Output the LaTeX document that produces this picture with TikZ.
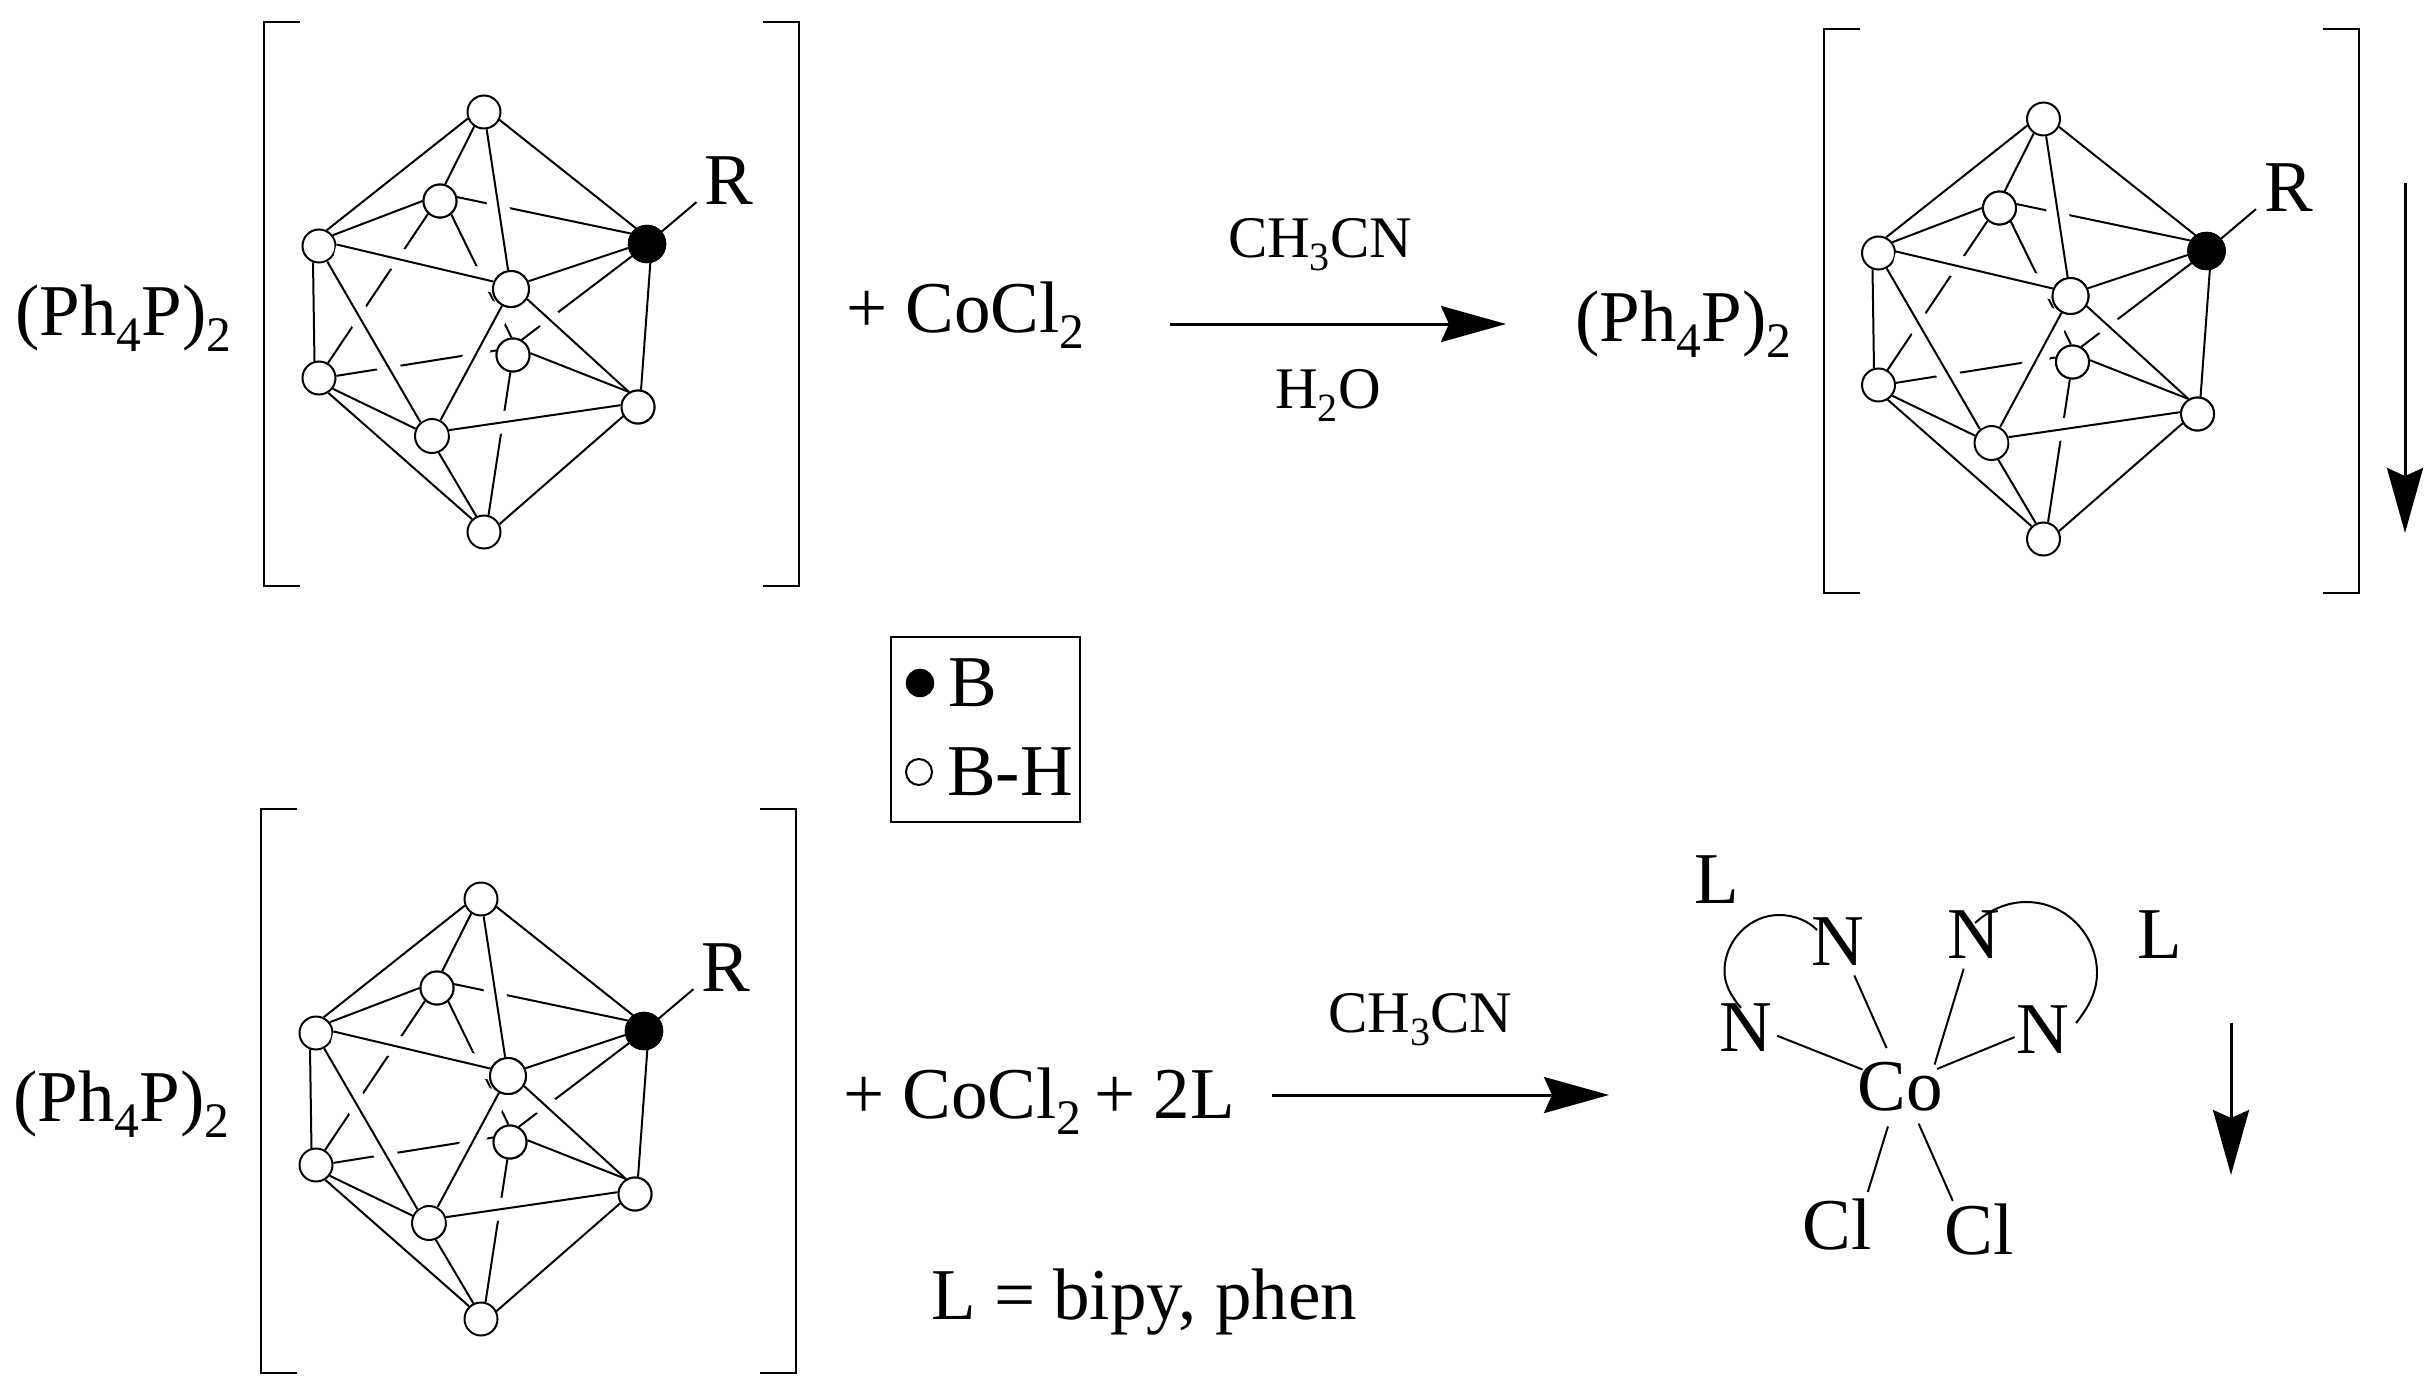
\documentclass[tikz,border=0pt]{standalone}
\usepackage{fontspec}
\usepackage{graphicx}
\setmainfont{Liberation Serif}
\usetikzlibrary{arrows.meta}
\newcommand{\chemsub}[1]{\raisebox{-.23em}{\scalebox{.68}{#1}}}
\tikzstyle{formula} = [font=\fontsize{73}{80}\selectfont, inner sep=0pt]
\tikzstyle{reagent} = [font=\fontsize{59}{66}\selectfont, inner sep=0pt]
\tikzstyle{vertex} = [circle, draw=black, fill=white, line width=2pt, inner sep=0pt, minimum size=33pt]
\tikzstyle{boron} = [circle, draw=black, fill=black, inner sep=0pt, minimum size=38pt]
\tikzstyle{bond} = [line width=2pt]
\tikzstyle{halo} = [white, line width=22pt]
\tikzstyle{atom} = [formula, circle, inner sep=-30pt, minimum size=72pt]
\tikzstyle{arrow} = [line width=3pt, -{Stealth[length=65pt, width=36pt, inset=8pt]}]

\newcommand{\carborane}[3]{
\begin{scope}[shift={(#1,#2)}, name prefix=#3-]
    \draw [bond] (300,22) -- (264,22) -- (264,586) -- (300,586);
    \draw [bond] (763,22) -- (799,22) -- (799,586) -- (763,586);

    \node (top) [vertex] at (484,112) {};
    \node (a) [vertex] at (440,201) {};
    \node (lu) [vertex] at (319,246) {};
    \node (c) [vertex, minimum size=36pt] at (511,289) {};
    \node (B) [boron] at (647,244) {};
    \node (bk) [vertex] at (513,355) {};
    \node (ll) [vertex] at (319,378) {};
    \node (rl) [vertex] at (638,407) {};
    \node (fl) [vertex, minimum size=34pt] at (432,436) {};
    \node (bot) [vertex] at (484,532) {};
    \node (Rlab) [formula, inner sep=8pt] at (729,181) {R};

    % back edges first, the white lines cut them
    \foreach \from/\to in {a.13/B.147, a.-50/bk.95, ll.59/a.227, ll.7/bk.165, bk.60/B.219, bk/bot.75}
        \draw [bond] (\from) -- (\to);
    \foreach \from/\to in {lu.5/c.157, top/c, c.-32/rl.121, c/fl, lu.-62/fl.130, fl.19/rl.174}
        \draw [halo] (\from) -- (\to);
    \draw [halo, shorten >=45pt] (c.24) -- (B.192);

    \foreach \from/\to in {lu.5/c.157, top/c, c.-32/rl.121, c/fl, lu.-62/fl.130, fl.19/rl.174, c.24/B.192,
        top.202/lu.64, top.-27/B.125, a.73/top.236, a.180/lu.38, lu.250/ll.105, B.280/rl.80,
        bk.6/rl.121, fl.156/ll.-38, ll.-58/bot.133, fl.-68/bot.116, rl.212/bot.27}
        \draw [bond] (\from) -- (\to);
    \draw [bond] (B) -- (Rlab.213);

    \node [vertex] at (a) {};
    \node [vertex, minimum size=36pt] at (c) {};
    \node [boron] at (B) {};
    \node [vertex] at (bk) {};
    \node [vertex] at (rl) {};
\end{scope}
}

\begin{document}
\begin{tikzpicture}[x=1pt, y=-1pt]
    \useasboundingbox (0,0) rectangle (2433,1389);

    \carborane{0}{0}{first}
    \carborane{1559.5}{7}{second}
    \carborane{-3}{787}{third}

    \node (phA) [formula, anchor=base west] at (15,335) {(Ph\chemsub{4}P)\chemsub{2}};
    \node (phB) [formula, anchor=base west] at (1575,341) {(Ph\chemsub{4}P)\chemsub{2}};
    \node (phC) [formula, anchor=base west] at (13,1121) {(Ph\chemsub{4}P)\chemsub{2}};
    \node (plusA) [formula, anchor=base west] at (846,332) {+ CoCl\chemsub{2}};
    \node (plusB) [formula, anchor=base west] at (843,1118) {+ CoCl\chemsub{2}\hspace{13pt}+ 2L};
    \node (ligand) [formula, anchor=base west] at (931,1319) {L = bipy, phen};

    \coordinate (arrowAa) at (1170,324);
    \coordinate (arrowAb) at (1506,324);
    \coordinate (arrowBa) at (1272,1095);
    \coordinate (arrowBb) at (1609,1095);
    \coordinate (downAa) at (2405,183);
    \coordinate (downAb) at (2405,533);
    \coordinate (downBa) at (2231,1023);
    \coordinate (downBb) at (2231,1175);

    \draw [arrow] (arrowAa) -- node[reagent, anchor=base, xshift=-18pt, yshift=67pt] {CH\chemsub{3}CN}
        node[reagent, anchor=base, xshift=-10pt, yshift=-84pt] {H\chemsub{2}O} (arrowAb);
    \draw [arrow] (arrowBa) -- node[reagent, anchor=base, xshift=-20pt, yshift=63pt] {CH\chemsub{3}CN} (arrowBb);
    \draw [arrow] (downAa) -- (downAb);
    \draw [arrow] (downBa) -- (downBb);

    % legend
    \draw [bond] (891,637) rectangle (1080,822);
    \node (dotB) [boron, minimum size=28pt] at (920,683) {};
    \node (dotH) [vertex, minimum size=26pt] at (919,772) {};
    \node (labB) [formula, anchor=west] at (948,683) {B};
    \node (labH) [formula, anchor=west] at (947,772) {B-H};

    % cobalt complex
    \node (Co) [atom, minimum size=82pt] at (1900,1087) {Co};
    \node (Na) [atom, minimum size=74pt] at (1838,942) {N};
    \node (Nb) [atom, minimum size=64pt] at (1746,1028) {N};
    \node (Nc) [atom, minimum size=70pt] at (1974,935) {N};
    \node (Nd) [atom, minimum size=58pt] at (2043,1030) {N};
    \node (Cla) [atom, minimum size=90pt] at (1837,1225) {Cl};
    \node (Clb) [atom, minimum size=78pt] at (1979,1230) {Cl};
    \node (La) [formula] at (1717,880) {L};
    \node (Lb) [formula] at (2160,935) {L};

    \draw [bond] (Co.109) -- (Na.-64);
    \draw [bond] (Co.155) -- (Nb.-14);
    \draw [bond] (Co.33) -- (Nc.-107);
    \draw [bond] (Co.26) -- (Nd.194);
    \draw [bond] (Co.253) -- (Cla.47);
    \draw [bond] (Co.297) -- (Clb.132);

    \coordinate (ringAa) at (1741,1008);
    \coordinate (ringAb) at (1817,930);
    \coordinate (ringBa) at (1975,923);
    \coordinate (ringBb) at (2076,1023);
    \draw [bond] (ringAa) .. controls (1731,996) and (1724,984) .. (1724.5,970)
        .. controls (1725,940) and (1750,915) .. (1779,915)
        .. controls (1795,915) and (1808,921) .. (ringAb);
    \draw [bond] (ringBa) .. controls (1988,911) and (2006,902) .. (2026,902)
        .. controls (2066,902) and (2097,935) .. (2097,973)
        .. controls (2097,992) and (2088,1008) .. (ringBb);
\end{tikzpicture}
\end{document}
